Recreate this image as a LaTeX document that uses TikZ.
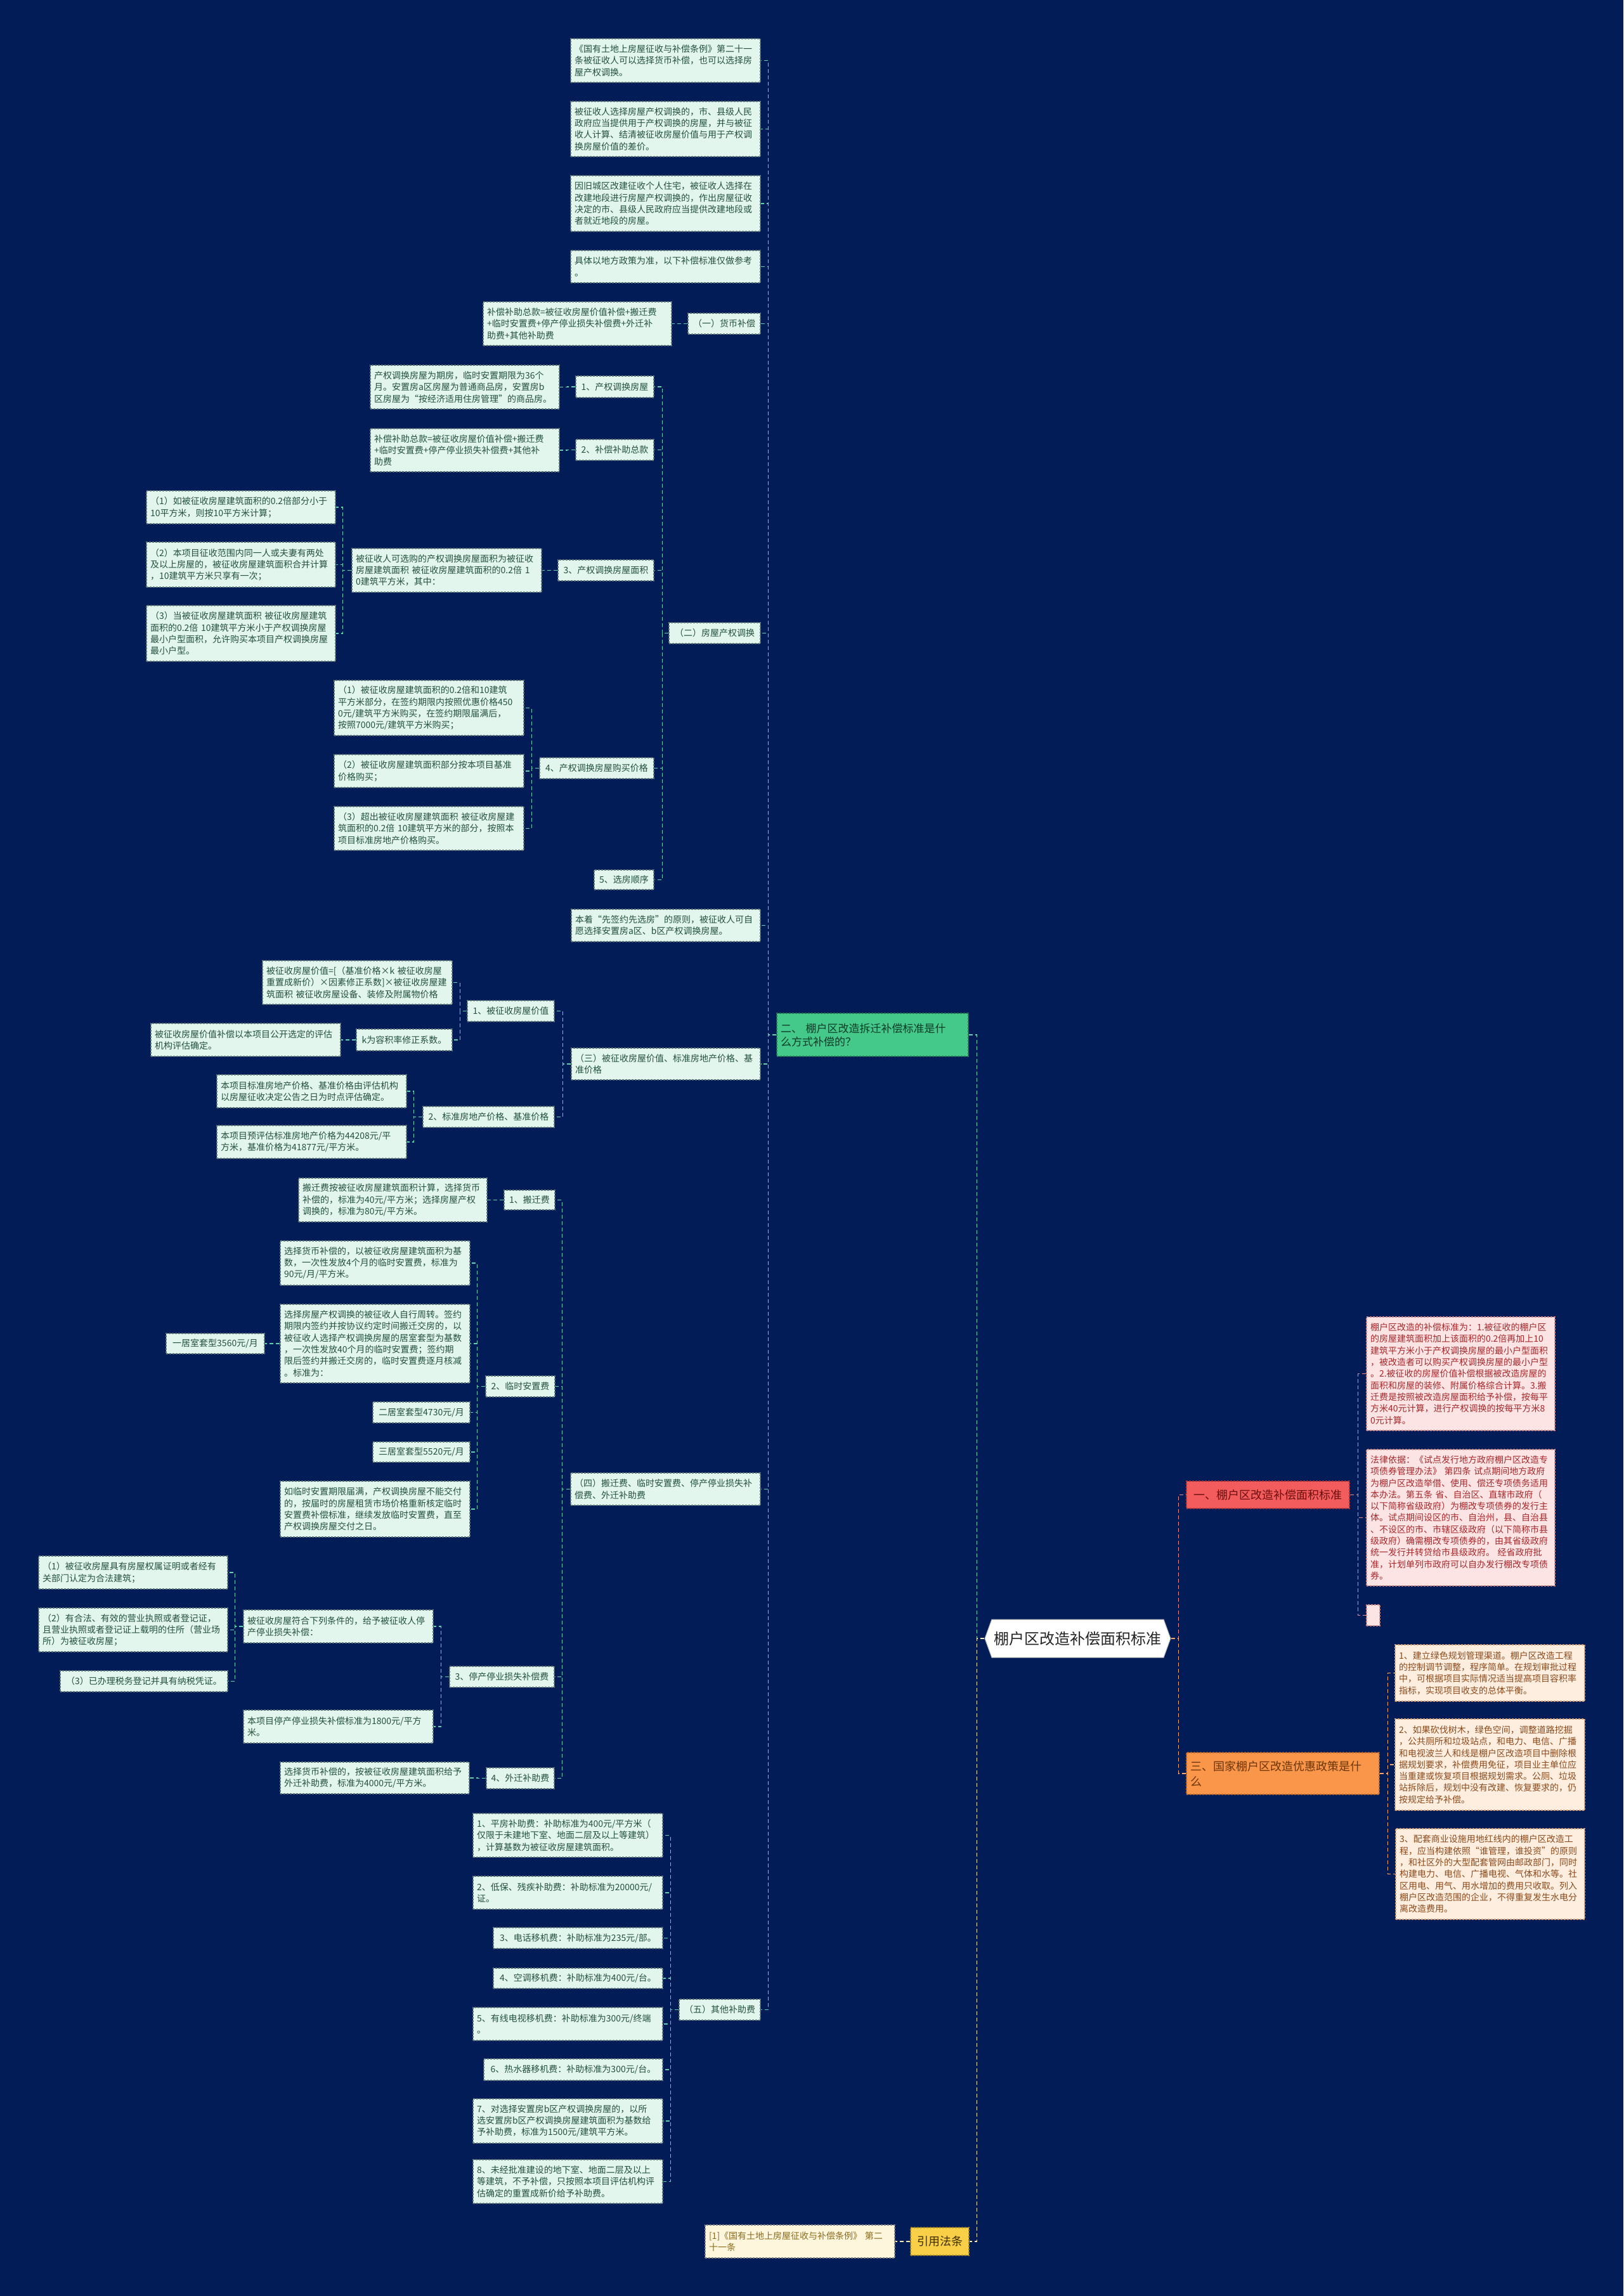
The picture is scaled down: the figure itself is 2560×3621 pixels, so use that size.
\documentclass[tikz,border=0pt]{standalone}
\usepackage{fontspec}
\setmainfont{Noto Sans CJK SC}
\usetikzlibrary{shapes.symbols}
\definecolor{bgc}{HTML}{021C57}
\definecolor{mintc}{HTML}{E2F6EE}
\definecolor{mintt}{HTML}{24503F}
\definecolor{mintb}{HTML}{5F7676}
\definecolor{tealc}{HTML}{5ED0B0}
\definecolor{greenc}{HTML}{45C98B}
\definecolor{greent}{HTML}{0D3B25}
\definecolor{redc}{HTML}{F25C5C}
\definecolor{redt}{HTML}{6E0F0F}
\definecolor{pinkc}{HTML}{FDE4E4}
\definecolor{pinkt}{HTML}{A5282B}
\definecolor{pinkl}{HTML}{F08A8A}
\definecolor{orac}{HTML}{F9964A}
\definecolor{orat}{HTML}{6B3508}
\definecolor{peachc}{HTML}{FDEEDF}
\definecolor{peacht}{HTML}{8B4A1C}
\definecolor{oral}{HTML}{F6A86A}
\definecolor{yelc}{HTML}{F8CF46}
\definecolor{yelt}{HTML}{3D2E00}
\definecolor{creamc}{HTML}{FDF6DC}
\definecolor{creamt}{HTML}{8A6C1E}
\definecolor{yell}{HTML}{F3E7AE}

\newcommand\mmbox[7]{%
 \pgfmathsetmacro\bxcx{(#3+#5)/2}%
 \pgfmathsetmacro\bxcy{(#4+#6)/2}%
 \pgfmathsetmacro\bxtw{#5-#3-12}%
 \pgfmathsetmacro\bxh{#6-#4}%
 \node[#1, text width=\bxtw pt, minimum height=\bxh pt] (#2) at (\bxcx,\bxcy) {#7};}
\newcommand\lk[4]{\draw[#1] (#2.west) -- ++(-#4,0) |- (#3.east);}
\newcommand\rk[4]{\draw[#1] (#2.east) -- ++(#4,0) |- (#3.west);}

\tikzset{
 basebox/.style={rectangle, inner xsep=6pt, inner ysep=0pt, align=left,
   font=\fontsize{14}{18.3}\selectfont, dash pattern=on 3pt off 2pt, line width=1.1pt},
 mint/.style={basebox, fill=mintc, draw=mintb, text=mintt},
 mintc/.style={mint, align=center},
 pinkbox/.style={basebox, fill=pinkc, draw=pinkl!70!gray, text=pinkt},
 peachbox/.style={basebox, fill=peachc, draw=oral!70!gray, text=peacht},
 creambox/.style={basebox, fill=creamc, draw=gray, text=creamt},
 greenbox/.style={basebox, fill=greenc, draw=greent!60!greenc, text=greent,
   font=\fontsize{17}{21}\selectfont},
 redbox/.style={basebox, fill=redc, draw=redt!50!redc, text=redt,
   font=\fontsize{18}{23}\selectfont, align=center},
 orabox/.style={basebox, fill=orac, draw=orat!50!orac, text=orat,
   font=\fontsize{18}{24}\selectfont},
 yelbox/.style={basebox, fill=yelc, draw=yelt!50!yelc, text=yelt,
   font=\fontsize{18}{23}\selectfont, align=center},
 connline/.style={dash pattern=on 6pt off 4pt, line width=1.6pt},
 tl/.style={connline, draw=tealc},
 pl/.style={connline, draw=pinkl},
 ol/.style={connline, draw=oral},
 yl/.style={connline, draw=yell},
}

\begin{document}
\begin{tikzpicture}[x=1pt,y=-1pt]
\useasboundingbox (0,0) rectangle (2560,3621);
\fill[bgc] (0,0) rectangle (2560,3621);

% ---------- centre ----------
\node[signal, signal to=west and east, signal pointer angle=140, fill=white, draw=gray!60,
  line width=1pt, inner xsep=2pt, minimum width=293pt, minimum height=60pt,
  text=black!85, font=\fontsize{24}{28}\selectfont] (c) at (1699.5,2584) {棚户区改造补偿面积标准};

% ---------- branch 二 ----------
\mmbox{greenbox}{n2}{1225}{1598}{1527}{1666}{二、 棚户区改造拆迁补偿标准是什\\么方式补偿的？}

\mmbox{mint}{a1}{900}{61}{1199}{130}{《国有土地上房屋征收与补偿条例》第二十一\\条被征收人可以选择货币补偿，也可以选择房\\屋产权调换。}
\mmbox{mint}{a2}{900}{160}{1199}{247}{被征收人选择房屋产权调换的，市、县级人民\\政府应当提供用于产权调换的房屋，并与被征\\收人计算、结清被征收房屋价值与用于产权调\\换房屋价值的差价。}
\mmbox{mint}{a3}{900}{277}{1199}{365}{因旧城区改建征收个人住宅，被征收人选择在\\改建地段进行房屋产权调换的，作出房屋征收\\决定的市、县级人民政府应当提供改建地段或\\者就近地段的房屋。}
\mmbox{mint}{a4}{900}{395}{1199}{446}{具体以地方政策为准，以下补偿标准仅做参考\\。}

\mmbox{mintc}{g1}{1085}{494}{1199}{527}{（一）货币补偿}
\mmbox{mint}{g1f}{762}{476}{1059}{545}{补偿补助总款=被征收房屋价值补偿+搬迁费\\+临时安置费+停产停业损失补偿费+外迁补\\助费+其他补助费}

\mmbox{mintc}{g2}{1055}{982}{1199}{1015}{（二）房屋产权调换}
\mmbox{mintc}{g2a}{908}{593}{1031}{627}{1、产权调换房屋}
\mmbox{mint}{g2al}{584}{576}{882}{645}{产权调换房屋为期房，临时安置期限为36个\\月。安置房a区房屋为普通商品房，安置房b\\区房屋为“按经济适用住房管理”的商品房。}
\mmbox{mintc}{g2b}{908}{693}{1031}{726}{2、补偿补助总款}
\mmbox{mint}{g2bl}{584}{676}{882}{744}{补偿补助总款=被征收房屋价值补偿+搬迁费\\+临时安置费+停产停业损失补偿费+其他补\\助费}
\mmbox{mintc}{g2c}{880}{883}{1031}{916}{3、产权调换房屋面积}
\mmbox{mint}{g2cl}{555}{865}{854}{934}{被征收人可选购的产权调换房屋面积为被征收\\房屋建筑面积 被征收房屋建筑面积的0.2倍 1\\0建筑平方米，其中：}
\mmbox{mint}{g2c1}{231}{774}{529}{826}{（1）如被征收房屋建筑面积的0.2倍部分小于\\10平方米，则按10平方米计算；}
\mmbox{mint}{g2c2}{231}{855}{529}{926}{（2）本项目征收范围内同一人或夫妻有两处\\及以上房屋的，被征收房屋建筑面积合并计算\\，10建筑平方米只享有一次；}
\mmbox{mint}{g2c3}{231}{955}{529}{1043}{（3）当被征收房屋建筑面积 被征收房屋建筑\\面积的0.2倍 10建筑平方米小于产权调换房屋\\最小户型面积，允许购买本项目产权调换房屋\\最小户型。}
\mmbox{mintc}{g2d}{851}{1195}{1031}{1228}{4、产权调换房屋购买价格}
\mmbox{mint}{g2d1}{527}{1073}{826}{1160}{（1）被征收房屋建筑面积的0.2倍和10建筑\\平方米部分，在签约期限内按照优惠价格450\\0元/建筑平方米购买，在签约期限届满后，\\按照7000元/建筑平方米购买；}
\mmbox{mint}{g2d2}{527}{1190}{826}{1242}{（2）被征收房屋建筑面积部分按本项目基准\\价格购买；}
\mmbox{mint}{g2d3}{527}{1272}{826}{1341}{（3）超出被征收房屋建筑面积 被征收房屋建\\筑面积的0.2倍 10建筑平方米的部分，按照本\\项目标准房地产价格购买。}
\mmbox{mintc}{g2e}{937}{1372}{1031}{1403}{5、选房顺序}

\mmbox{mint}{bz}{901}{1434}{1199}{1485}{本着“先签约先选房”的原则，被征收人可自\\愿选择安置房a区、b区产权调换房屋。}

\mmbox{mint}{g3}{901}{1653}{1199}{1703}{（三）被征收房屋价值、标准房地产价格、基\\准价格}
\mmbox{mintc}{g3a}{737}{1578}{874}{1611}{1、被征收房屋价值}
\mmbox{mint}{g3al}{414}{1515}{713}{1584}{被征收房屋价值=[（基准价格×k 被征收房屋\\重置成新价）×因素修正系数]×被征收房屋建\\筑面积 被征收房屋设备、装修及附属物价格}
\mmbox{mintc}{g3ak}{562}{1623}{713}{1657}{k为容积率修正系数。}
\mmbox{mint}{g3akl}{238}{1614}{537}{1666}{被征收房屋价值补偿以本项目公开选定的评估\\机构评估确定。}
\mmbox{mintc}{g3b}{667}{1745}{874}{1778}{2、标准房地产价格、基准价格}
\mmbox{mint}{g3b1}{342}{1695}{641}{1747}{本项目标准房地产价格、基准价格由评估机构\\以房屋征收决定公告之日为时点评估确定。}
\mmbox{mint}{g3b2}{342}{1775}{641}{1827}{本项目预评估标准房地产价格为44208元/平\\方米，基准价格为41877元/平方米。}

\mmbox{mint}{g4}{900}{2323}{1199}{2374}{（四）搬迁费、临时安置费、停产停业损失补\\偿费、外迁补助费}
\mmbox{mintc}{g4a}{795}{1877}{875}{1908}{1、搬迁费}
\mmbox{mint}{g4al}{471}{1858}{768}{1927}{搬迁费按被征收房屋建筑面积计算，选择货币\\补偿的，标准为40元/平方米；选择房屋产权\\调换的，标准为80元/平方米。}
\mmbox{mintc}{g4b}{766}{2170}{875}{2203}{2、临时安置费}
\mmbox{mint}{g4b1}{442}{1957}{741}{2027}{选择货币补偿的，以被征收房屋建筑面积为基\\数，一次性发放4个月的临时安置费，标准为\\90元/月/平方米。}
\mmbox{mint}{g4b2}{442}{2057}{741}{2181}{选择房屋产权调换的被征收人自行周转。签约\\期限内签约并按协议约定时间搬迁交房的，以\\被征收人选择产权调换房屋的居室套型为基数\\，一次性发放40个月的临时安置费；签约期\\限后签约并搬迁交房的，临时安置费逐月核减\\。标准为：}
\mmbox{mintc}{g4b2a}{262}{2103}{417}{2135}{一居室套型3560元/月}
\mmbox{mintc}{g4b3}{588}{2211}{741}{2244}{二居室套型4730元/月}
\mmbox{mintc}{g4b4}{588}{2274}{741}{2306}{三居室套型5520元/月}
\mmbox{mint}{g4b5}{442}{2336}{741}{2424}{如临时安置期限届满，产权调换房屋不能交付\\的，按届时的房屋租赁市场价格重新核定临时\\安置费补偿标准，继续发放临时安置费，直至\\产权调换房屋交付之日。}
\mmbox{mintc}{g4c}{709}{2628}{874}{2661}{3、停产停业损失补偿费}
\mmbox{mint}{g4c1}{384}{2539}{683}{2591}{被征收房屋符合下列条件的，给予被征收人停\\产停业损失补偿：}
\mmbox{mint}{g4c1a}{61}{2454}{359}{2506}{（1）被征收房屋具有房屋权属证明或者经有\\关部门认定为合法建筑；}
\mmbox{mint}{g4c1b}{61}{2536}{359}{2605}{（2）有合法、有效的营业执照或者登记证，\\且营业执照或者登记证上载明的住所（营业场\\所）为被征收房屋；}
\mmbox{mintc}{g4c1c}{95}{2635}{359}{2668}{（3）已办理税务登记并具有纳税凭证。}
\mmbox{mint}{g4c2}{384}{2697}{683}{2749}{本项目停产停业损失补偿标准为1800元/平方\\米。}
\mmbox{mintc}{g4d}{767}{2788}{874}{2821}{4、外迁补助费}
\mmbox{mint}{g4dl}{442}{2779}{740}{2829}{选择货币补偿的，按被征收房屋建筑面积给予\\外迁补助费，标准为4000元/平方米。}

\mmbox{mintc}{g5}{1071}{3153}{1199}{3186}{（五）其他补助费}
\mmbox{mint}{g5i1}{746}{2860}{1045}{2929}{1、平房补助费：补助标准为400元/平方米（\\仅限于未建地下室、地面二层及以上等建筑）\\，计算基数为被征收房屋建筑面积。}
\mmbox{mint}{g5i2}{746}{2959}{1045}{3011}{2、低保、残疾补助费：补助标准为20000元/\\证。}
\mmbox{mintc}{g5i3}{778}{3040}{1045}{3073}{3、电话移机费：补助标准为235元/部。}
\mmbox{mintc}{g5i4}{778}{3104}{1045}{3136}{4、空调移机费：补助标准为400元/台。}
\mmbox{mint}{g5i5}{746}{3166}{1045}{3218}{5、有线电视移机费：补助标准为300元/终端\\。}
\mmbox{mintc}{g5i6}{763}{3247}{1045}{3281}{6、热水器移机费：补助标准为300元/台。}
\mmbox{mint}{g5i7}{746}{3310}{1045}{3380}{7、对选择安置房b区产权调换房屋的，以所\\选安置房b区产权调换房屋建筑面积为基数给\\予补助费，标准为1500元/建筑平方米。}
\mmbox{mint}{g5i8}{746}{3406}{1045}{3475}{8、未经批准建设的地下室、地面二层及以上\\等建筑，不予补偿，只按照本项目评估机构评\\估确定的重置成新价给予补助费。}

% ---------- 引用法条 ----------
\mmbox{yelbox}{ref}{1436}{3513}{1528}{3557}{引用法条}
\mmbox{creambox}{refl}{1112}{3509}{1411}{3561}{[1]《国有土地上房屋征收与补偿条例》 第二\\十一条}

% ---------- branch 一 ----------
\mmbox{redbox}{n1}{1871}{2336}{2128}{2379}{一、棚户区改造补偿面积标准}
\mmbox{pinkbox}{r1}{2155}{2077}{2452}{2256}{棚户区改造的补偿标准为：1.被征收的棚户区\\的房屋建筑面积加上该面积的0.2倍再加上10\\建筑平方米小于产权调换房屋的最小户型面积\\，被改造者可以购买产权调换房屋的最小户型\\。2.被征收的房屋价值补偿根据被改造房屋的\\面积和房屋的装修、附属价格综合计算。3.搬\\迁费是按照被改造房屋面积给予补偿，按每平\\方米40元计算，进行产权调换的按每平方米8\\0元计算。}
\mmbox{pinkbox}{r2}{2155}{2286}{2452}{2501}{法律依据：《试点发行地方政府棚户区改造专\\项债券管理办法》 第四条 试点期间地方政府\\为棚户区改造举借、使用、偿还专项债务适用\\本办法。第五条 省、自治区、直辖市政府（\\以下简称省级政府）为棚改专项债券的发行主\\体。试点期间设区的市、自治州，县、自治县\\、不设区的市、市辖区级政府（以下简称市县\\级政府）确需棚改专项债券的，由其省级政府\\统一发行并转贷给市县级政府。 经省政府批\\准，计划单列市政府可以自办发行棚改专项债\\券。}
\node[pinkbox, minimum width=21pt, minimum height=33pt, inner xsep=0pt] (r3) at (2165.5,2547.5) {};

% ---------- branch 三 ----------
\mmbox{orabox}{n3}{1871}{2764}{2175}{2830}{三、国家棚户区改造优惠政策是什\\么}
\mmbox{peachbox}{s1}{2200}{2594}{2499}{2683}{1、建立绿色规划管理渠道。棚户区改造工程\\的控制调节调整，程序简单。在规划审批过程\\中，可根据项目实际情况适当提高项目容积率\\指标，实现项目收支的总体平衡。}
\mmbox{peachbox}{s2}{2200}{2711}{2499}{2855}{2、如果砍伐树木，绿色空间，调整道路挖掘\\，公共厕所和垃圾站点，和电力、电信、广播\\和电视波兰人和线是棚户区改造项目中删除根\\据规划要求，补偿费用免征，项目业主单位应\\当重建或恢复项目根据规划需求。公厕、垃圾\\站拆除后，规划中没有改建、恢复要求的，仍\\按规定给予补偿。}
\mmbox{peachbox}{s3}{2201}{2884}{2499}{3027}{3、配套商业设施用地红线内的棚户区改造工\\程，应当构建依照“谁管理，谁投资”的原则\\，和社区外的大型配套管网由邮政部门，同时\\构建电力、电信、广播电视、气体和水等。社\\区用电、用气、用水增加的费用只收取。列入\\棚户区改造范围的企业，不得重复发生水电分\\离改造费用。}

% ---------- connectors ----------
\lk{tl}{c}{n2}{12}
\lk{yl}{c}{ref}{12}
\lk{yl}{ref}{refl}{12}
\rk{pl}{c}{n1}{12}
\rk{ol}{c}{n3}{12}
\foreach \k in {r1,r2,r3}{\rk{pl}{n1}{\k}{13}}
\foreach \k in {s1,s2,s3}{\rk{ol}{n3}{\k}{13}}

\foreach \k in {a1,a2,a3,a4,g1,g2,bz,g3,g4,g5}{\lk{tl}{n2}{\k}{13}}
\lk{tl}{g1}{g1f}{13}
\foreach \k in {g2a,g2b,g2c,g2d,g2e}{\lk{tl}{g2}{\k}{10}}
\lk{tl}{g2a}{g2al}{13}
\lk{tl}{g2b}{g2bl}{13}
\lk{tl}{g2c}{g2cl}{13}
\foreach \k in {g2c1,g2c2,g2c3}{\lk{tl}{g2cl}{\k}{14}}
\foreach \k in {g2d1,g2d2,g2d3}{\lk{tl}{g2d}{\k}{12}}
\foreach \k in {g3a,g3b}{\lk{tl}{g3}{\k}{13}}
\foreach \k in {g3al,g3ak}{\lk{tl}{g3a}{\k}{11}}
\lk{tl}{g3ak}{g3akl}{13}
\foreach \k in {g3b1,g3b2}{\lk{tl}{g3b}{\k}{14}}
\foreach \k in {g4a,g4b,g4c,g4d}{\lk{tl}{g4}{\k}{13}}
\lk{tl}{g4a}{g4al}{13}
\foreach \k in {g4b1,g4b2,g4b3,g4b4,g4b5}{\lk{tl}{g4b}{\k}{13}}
\lk{tl}{g4b2}{g4b2a}{13}
\foreach \k in {g4c1,g4c2}{\lk{tl}{g4c}{\k}{13}}
\foreach \k in {g4c1a,g4c1b,g4c1c}{\lk{tl}{g4c1}{\k}{13}}
\lk{tl}{g4d}{g4dl}{13}
\foreach \k in {g5i1,g5i2,g5i3,g5i4,g5i5,g5i6,g5i7,g5i8}{\lk{tl}{g5}{\k}{13}}
\end{tikzpicture}
\end{document}
